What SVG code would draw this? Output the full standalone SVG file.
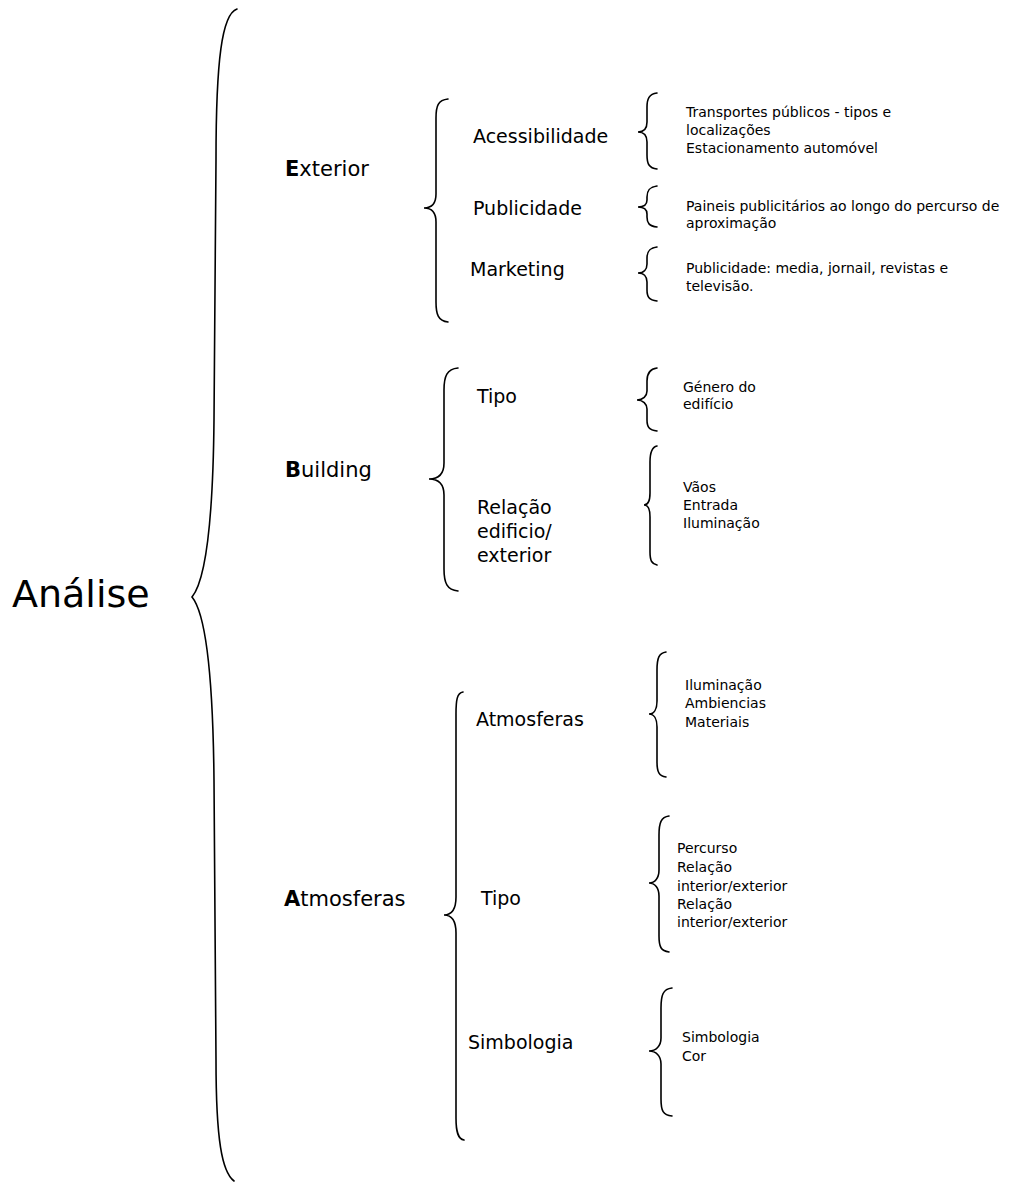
<svg xmlns="http://www.w3.org/2000/svg" width="1011" height="1182" viewBox="0 0 1011 1182">
<style>
text{font-family:"DejaVu Sans",sans-serif;fill:#000}
.root{font-size:38px}
.l1{font-size:21px}
.l2{font-size:19px}
.l3{font-size:14px}
.b{font-weight:bold}
.br{fill:none;stroke:#000;stroke-width:1.6;stroke-linecap:round}
</style>
<rect width="1011" height="1182" fill="#fff"/>
<g id="connectors">
<path class="br" d="M237,9 C222,14 216,60 216,160 L214,420 C213,520 206,580 192,597 C206,614 213,680 214,780 L216,1060 C216,1140 222,1172 234,1181"/>
<path class="br" d="M448,99 C438,100 436,106 436,118 L436,194 C436,203 432,208 424,208 C432,208 436,213 436,222 L436,302 C436,314 438,321 448,322"/>
<path class="br" d="M458,368 C447,369 444,376 444,390 L444,463 C444,473 439,479 429,479 C439,479 444,485 444,495 L444,569 C444,583 447,590 458,591"/>
<path class="br" d="M463,692 C457,693 456,700 456,714 L456,897 C456,908 452,915 444,915 C452,915 456,922 456,933 L456,1118 C456,1132 458,1139 464,1140"/>
<path class="br" d="M657,93 C649,94 647,99 647,107 L647,122 C647,128 644,132 638,132 C644,132 647,136 647,142 L647,155 C647,164 649,168 657,169"/>
<path class="br" d="M657,186 C649,187 647,191 647,197 L647,200 C647,204 644,207 638,207 C644,207 647,210 647,214 L647,217 C647,223 649,226 657,227"/>
<path class="br" d="M657,247 C649,248 647,252 647,258 L647,264 C647,269 644,273 638,273 C644,273 647,277 647,282 L647,290 C647,297 649,300 657,301"/>
<path class="br" d="M657,368 C649,369 647,374 647,381 L647,391 C647,396 643,400 637,400 C643,400 647,404 647,409 L647,420 C647,427 649,430 657,431"/>
<path class="br" d="M657,446 C652,447 650,452 650,462 L650,493 C650,500 648,505 644,505 C648,505 650,510 650,517 L650,552 C650,561 652,564 657,565"/>
<path class="br" d="M666,652 C659,653 657,658 657,670 L657,701 C657,709 654,714 649,714 C654,714 657,719 657,727 L657,762 C657,772 659,776 666,777"/>
<path class="br" d="M669,816 C661,817 659,823 659,835 L659,870 C659,878 655,883 649,883 C655,883 659,888 659,896 L659,936 C659,947 661,951 669,952"/>
<path class="br" d="M672,988 C663,989 661,995 661,1008 L661,1038 C661,1046 656,1051 649,1051 C656,1051 661,1056 661,1064 L661,1099 C661,1111 663,1115 672,1116"/>
</g>
<g id="n-analise"><text class="root" x="12" y="607">Análise</text></g>
<g id="n-exterior"><text class="l1" x="285" y="176"><tspan class="b">E</tspan>xterior</text></g>
<g id="n-building"><text class="l1" x="285" y="477"><tspan class="b">B</tspan>uilding</text></g>
<g id="n-atmosferas"><text class="l1" x="284" y="906"><tspan class="b">A</tspan>tmosferas</text></g>
<g id="n-acessibilidade"><text class="l2" x="473" y="143">Acessibilidade</text></g>
<g id="n-publicidade"><text class="l2" x="473" y="215">Publicidade</text></g>
<g id="n-marketing"><text class="l2" x="470" y="276">Marketing</text></g>
<g id="n-tipo1"><text class="l2" x="477" y="403">Tipo</text></g>
<g id="n-relacao"><text class="l2" x="477" y="514">Relação</text><text class="l2" x="477" y="538">edificio/</text><text class="l2" x="477" y="562">exterior</text></g>
<g id="n-atmosferas2"><text class="l2" x="476" y="726">Atmosferas</text></g>
<g id="n-tipo2"><text class="l2" x="481" y="905">Tipo</text></g>
<g id="n-simbologia"><text class="l2" x="468" y="1049">Simbologia</text></g>
<g id="d-acess"><text class="l3" x="686" y="117">Transportes públicos - tipos e</text><text class="l3" x="686" y="135">localizações</text><text class="l3" x="686" y="153">Estacionamento automóvel</text></g>
<g id="d-public"><text class="l3" x="686" y="211">Paineis publicitários ao longo do percurso de</text><text class="l3" x="686" y="228">aproximação</text></g>
<g id="d-market"><text class="l3" x="686" y="273">Publicidade: media, jornail, revistas e</text><text class="l3" x="686" y="291">televisão.</text></g>
<g id="d-tipo1"><text class="l3" x="683" y="392">Género do</text><text class="l3" x="683" y="409">edifício</text></g>
<g id="d-relacao"><text class="l3" x="683" y="492">Vãos</text><text class="l3" x="683" y="510">Entrada</text><text class="l3" x="683" y="528">Iluminação</text></g>
<g id="d-atmos"><text class="l3" x="685" y="690">Iluminação</text><text class="l3" x="685" y="708">Ambiencias</text><text class="l3" x="685" y="727">Materiais</text></g>
<g id="d-tipo2"><text class="l3" x="677" y="853">Percurso</text><text class="l3" x="677" y="872">Relação</text><text class="l3" x="677" y="891">interior/exterior</text><text class="l3" x="677" y="909">Relação</text><text class="l3" x="677" y="927">interior/exterior</text></g>
<g id="d-simb"><text class="l3" x="682" y="1042">Simbologia</text><text class="l3" x="682" y="1061">Cor</text></g>
</svg>
